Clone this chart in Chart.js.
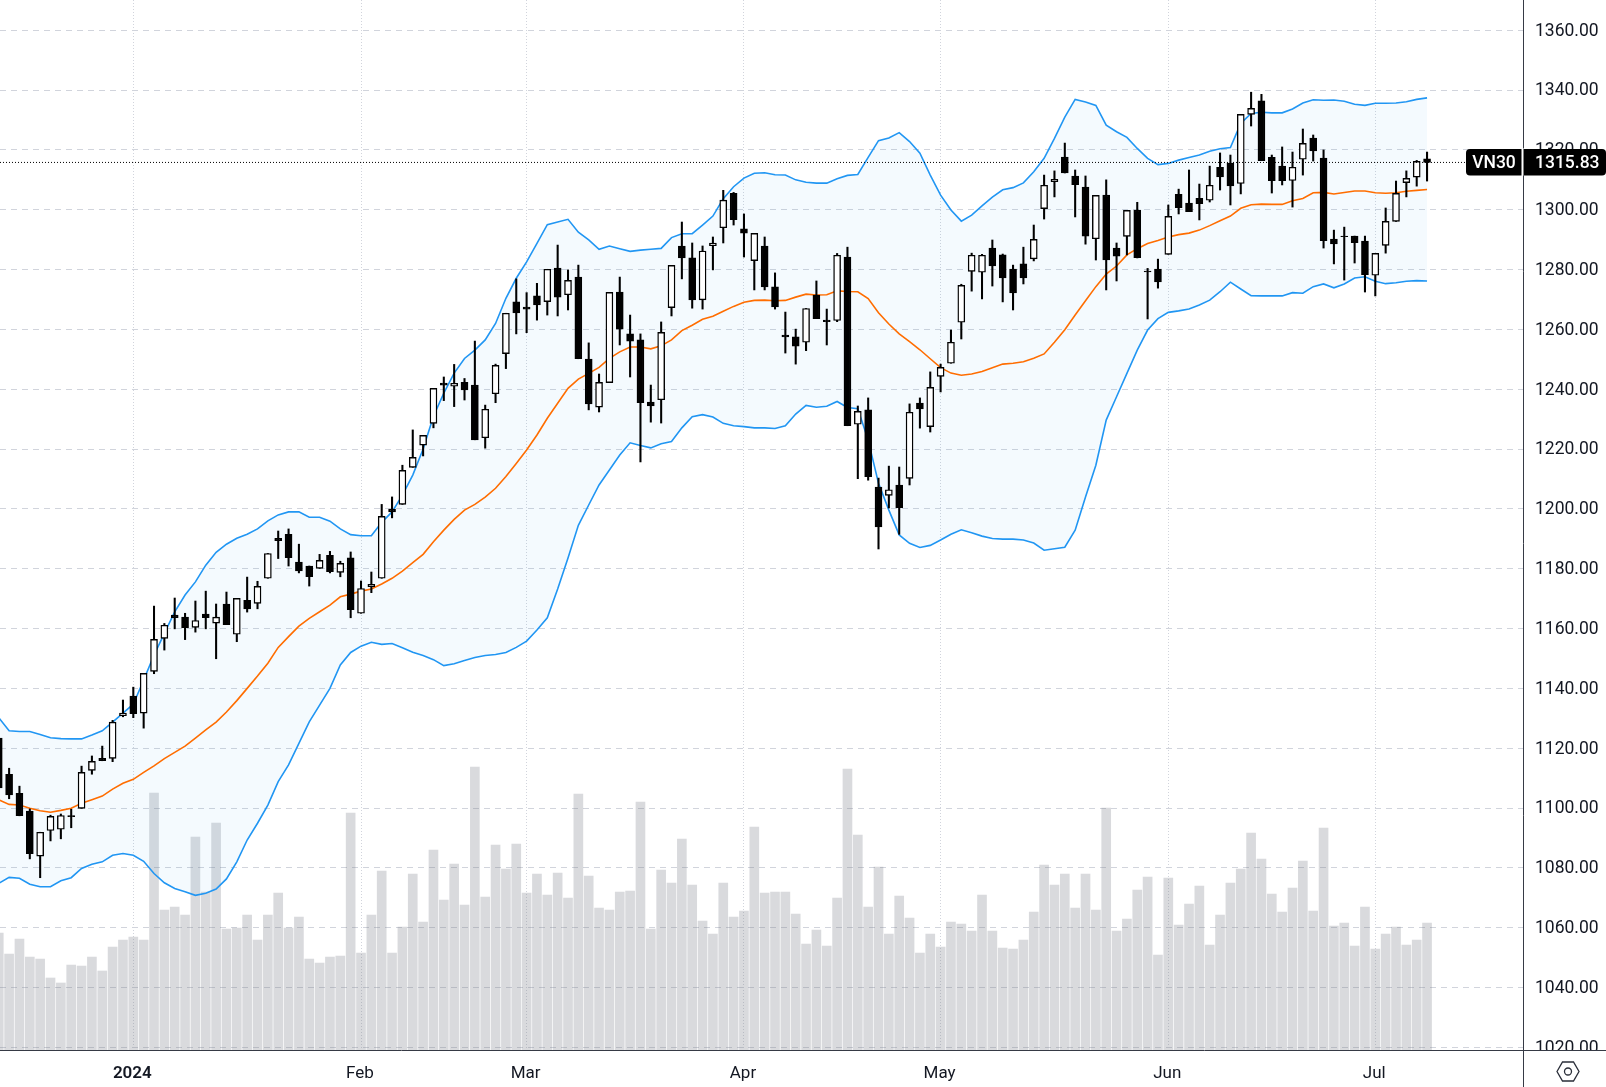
<!DOCTYPE html>
<html>
<head>
<meta charset="utf-8">
<title>VN30</title>
<script src="https://cdn.jsdelivr.net/npm/chart.js@4/dist/chart.umd.min.js"></script>
<style>
  html, body { margin: 0; padding: 0; background: #fff; }
  canvas { display: block; }
</style>
</head>
<body>
<canvas id="grafico" width="1606" height="1087"></canvas>
<script>
const opens = [
  1123.4,1111.3,1104.9,1099.0,1083.9,1092.5,1092.9,1097.5,1099.9,1112.6,
  1116.6,1116.6,1130.9,1137.4,1131.7,1145.7,1156.7,1164.5,1163.8,1160.4,
  1164.8,1161.8,1168.2,1158.1,1169.4,1168.4,1176.8,1190.2,1191.5,1182.2,
  1180.9,1180.1,1184.5,1178.8,1183.6,1165.1,1174.0,1176.8,1199.9,1201.5,
  1213.9,1221.3,1228.6,1242.1,1241.0,1242.3,1241.4,1223.8,1238.5,1251.9,
  1269.2,1267.5,1271.2,1269.3,1280.5,1271.6,1277.5,1250.1,1234.0,1242.2,
  1272.5,1258.5,1256.5,1235.7,1236.5,1267.3,1287.9,1283.9,1269.9,1288.0,
  1294.0,1305.5,1293.6,1283.0,1287.9,1274.2,1258.1,1257.5,1255.7,1271.5,
  1263.1,1263.0,1284.2,1228.3,1233.1,1207.3,1204.5,1208.0,1210.2,1235.4,
  1227.5,1244.3,1248.7,1262.4,1279.4,1279.1,1287.2,1284.9,1280.2,1281.9,
  1283.6,1300.4,1309.4,1317.6,1311.3,1307.6,1290.3,1304.9,1287.2,1291.1,
  1299.9,1279.5,1280.2,1285.1,1305.2,1302.2,1303.8,1303.2,1314.2,1315.6,
  1308.8,1331.9,1336.4,1317.5,1314.6,1309.8,1316.9,1324.0,1317.3,1290.2,
  1291.2,1291.2,1289.5,1278.1,1288.1,1296.1,1309.1,1310.9,1317.0
];
const highs = [
  1124.1,1113.3,1107.3,1099.7,1091.9,1097.6,1098.0,1099.6,1114.0,1117.4,
  1120.7,1129.3,1136.1,1140.4,1145.0,1167.5,1161.7,1170.2,1165.1,1169.2,
  1172.5,1168.2,1172.2,1170.1,1177.2,1175.8,1185.1,1192.6,1193.3,1188.2,
  1180.9,1184.8,1185.8,1182.5,1185.6,1175.9,1178.9,1201.5,1204.0,1214.6,
  1226.4,1224.6,1240.3,1244.1,1248.3,1243.6,1256.1,1234.7,1248.4,1265.4,
  1276.9,1272.3,1275.4,1280.1,1288.2,1279.9,1281.5,1255.5,1245.1,1272.4,
  1277.5,1264.8,1258.5,1241.4,1262.5,1281.4,1295.9,1288.9,1287.9,1290.9,
  1306.5,1305.8,1298.6,1292.1,1290.9,1278.9,1265.8,1260.1,1267.0,1276.2,
  1266.8,1285.4,1287.5,1234.4,1237.1,1210.3,1214.3,1214.0,1235.1,1237.1,
  1245.8,1248.4,1259.8,1275.1,1285.5,1285.1,1289.9,1285.2,1281.5,1287.5,
  1294.9,1311.6,1313.0,1322.3,1313.3,1311.3,1304.8,1310.0,1288.9,1299.8,
  1302.5,1280.4,1283.5,1301.6,1306.9,1313.3,1308.6,1314.6,1319.0,1318.3,
  1331.9,1339.3,1338.6,1318.3,1321.0,1319.3,1327.0,1325.0,1320.0,1293.2,
  1294.2,1291.2,1291.2,1285.4,1300.6,1309.6,1313.0,1316.5,1319.3
];
const lows = [
  1106.0,1103.1,1097.4,1083.0,1076.7,1089.0,1089.7,1093.4,1099.9,1111.3,
  1115.8,1115.5,1130.5,1130.2,1126.7,1144.9,1152.8,1159.9,1156.3,1158.8,
  1159.9,1149.9,1161.3,1155.6,1165.5,1166.6,1176.8,1183.4,1180.9,1178.6,
  1174.2,1180.1,1178.6,1177.3,1163.6,1165.1,1172.0,1176.8,1197.0,1201.5,
  1213.9,1217.7,1227.1,1236.2,1234.2,1236.4,1223.1,1220.3,1235.5,1246.9,
  1258.5,1258.9,1263.1,1264.8,1264.5,1266.5,1250.2,1233.1,1232.4,1242.2,
  1254.8,1244.1,1215.7,1229.0,1228.7,1264.5,1276.9,1267.1,1266.8,1279.9,
  1288.9,1294.9,1284.2,1273.2,1273.2,1266.8,1252.1,1248.4,1252.9,1263.6,
  1254.8,1262.6,1227.8,1210.1,1209.6,1186.6,1200.3,1191.5,1208.0,1227.0,
  1225.7,1239.1,1248.7,1256.8,1272.8,1270.2,1274.5,1269.2,1266.5,1275.2,
  1282.9,1296.9,1304.3,1312.3,1297.6,1288.5,1283.2,1273.2,1276.2,1284.9,
  1283.9,1263.5,1273.8,1285.1,1298.6,1299.4,1296.6,1302.6,1306.6,1301.6,
  1305.3,1328.0,1316.4,1305.6,1308.3,1300.9,1311.6,1316.3,1287.2,1281.9,
  1276.5,1282.2,1272.5,1271.2,1285.5,1296.1,1304.3,1307.9,1309.6
];
const closes = [
  1106.7,1104.4,1097.4,1084.7,1091.9,1097.2,1097.5,1097.1,1111.9,1115.6,
  1115.8,1128.7,1131.7,1131.5,1145.0,1156.4,1161.1,1163.6,1160.3,1162.7,
  1163.6,1163.8,1161.3,1170.1,1166.6,1174.1,1185.1,1189.4,1183.7,1179.3,
  1177.3,1182.8,1179.0,1181.8,1166.3,1173.4,1174.8,1197.5,1199.0,1212.9,
  1217.2,1224.6,1240.3,1241.4,1242.0,1239.8,1223.1,1233.3,1248.0,1265.4,
  1265.5,1266.8,1268.2,1280.1,1270.8,1276.4,1250.2,1235.1,1242.3,1272.4,
  1260.1,1256.1,1235.5,1234.4,1259.0,1281.4,1283.9,1269.9,1286.2,1288.9,
  1303.2,1296.7,1292.2,1292.1,1274.2,1267.5,1257.5,1254.4,1267.0,1263.6,
  1262.6,1284.8,1227.8,1232.6,1210.8,1194.0,1206.4,1200.4,1232.3,1233.4,
  1240.6,1247.3,1255.7,1274.7,1284.8,1284.8,1281.2,1277.2,1272.2,1277.2,
  1290.1,1308.2,1310.2,1312.3,1308.4,1291.2,1304.8,1283.2,1284.5,1299.8,
  1284.0,1279.2,1275.9,1297.8,1300.7,1299.4,1302.0,1308.2,1311.0,1308.0,
  1331.9,1333.9,1316.4,1309.7,1309.7,1314.2,1322.2,1319.7,1289.7,1288.6,
  1291.0,1289.0,1278.3,1285.4,1296.1,1305.5,1310.5,1316.2,1315.83
];
const volumes = [
  117,96,111,93,91,72,67,85,84,93,
  79,103,110,113,110,257,140,143,135,213,
  158,227,121,122,135,110,135,157,122,133,
  91,87,93,94,237,97,135,179,97,123,
  176,128,200,150,186,145,283,153,205,181,
  206,157,176,155,177,152,256,174,142,140,
  158,159,248,121,180,167,211,165,129,116,
  167,133,139,223,157,158,158,136,106,120,
  104,152,281,215,143,183,116,154,132,97,
  116,103,128,126,119,155,119,102,101,110,
  138,185,165,176,142,176,140,242,119,131,
  160,173,95,172,125,146,164,105,135,167,
  181,217,191,156,138,162,189,139,222,124,
  127,104,143,101,116,123,105,110,127
];
const bbUpper = [
  1130.2,1125.8,1125.6,1125.6,1124.6,1123.5,1123.2,1123.1,1123.1,1124.4,
  1125.8,1128.7,1131.7,1134.7,1142.8,1151.1,1158.4,1165.6,1171.2,1175.6,
  1181.2,1185.5,1188.2,1190.2,1191.5,1193.3,1196.0,1198.0,1199.0,1199.0,
  1197.2,1197.2,1195.9,1193.3,1191.4,1191.0,1191.0,1195.5,1199.0,1204.6,
  1211.3,1220.0,1231.0,1238.7,1245.4,1250.3,1253.1,1256.5,1262.0,1270.4,
  1277.1,1282.6,1288.8,1295.0,1295.9,1296.8,1292.5,1289.9,1286.8,1287.9,
  1287.0,1286.1,1286.5,1286.8,1287.1,1290.7,1292.0,1292.0,1294.9,1297.9,
  1303.7,1307.7,1310.6,1312.2,1312.4,1311.7,1311.6,1310.0,1309.2,1308.9,
  1308.9,1310.4,1311.5,1311.8,1317.5,1323.1,1324.0,1325.8,1322.8,1318.9,
  1311.6,1304.9,1299.9,1296.2,1298.2,1301.3,1304.2,1306.7,1307.4,1309.0,
  1312.7,1317.2,1323.9,1331.0,1336.9,1336.0,1334.9,1328.3,1326.1,1324.2,
  1320.5,1317.2,1315.1,1315.5,1316.6,1317.5,1318.3,1319.6,1320.4,1320.8,
  1328.9,1332.2,1332.6,1332.4,1332.4,1333.7,1335.7,1336.8,1336.6,1336.7,
  1336.3,1335.3,1334.9,1335.6,1335.6,1335.7,1336.1,1336.9,1337.4
];
const bbMiddle = [
  1102.7,1101.2,1101.0,1099.9,1099.1,1098.6,1099.2,1099.9,1101.6,1102.8,
  1104.0,1106.3,1108.3,1109.6,1111.9,1114.1,1116.5,1118.6,1120.7,1123.4,
  1126.1,1128.7,1132.1,1135.9,1140.0,1144.1,1148.4,1153.7,1157.3,1160.8,
  1163.4,1165.6,1167.8,1170.6,1171.5,1172.5,1173.2,1174.9,1176.8,1179.2,
  1182.0,1184.8,1189.0,1192.9,1196.5,1199.6,1201.5,1203.9,1206.9,1210.8,
  1215.2,1219.7,1224.7,1230.3,1235.3,1240.3,1243.4,1245.3,1247.3,1250.3,
  1252.5,1254.1,1254.1,1253.5,1254.5,1256.5,1259.6,1261.4,1263.4,1264.4,
  1266.1,1267.7,1269.1,1269.7,1269.8,1269.6,1269.7,1270.8,1271.8,1271.5,
  1271.6,1272.9,1272.7,1272.6,1270.3,1265.6,1261.8,1258.5,1255.9,1253.2,
  1250.2,1247.2,1245.4,1244.7,1245.1,1245.9,1247.2,1248.4,1248.7,1249.2,
  1250.4,1251.8,1255.7,1259.9,1264.8,1269.6,1274.3,1278.5,1281.2,1284.9,
  1287.0,1288.7,1289.7,1290.9,1291.7,1292.2,1293.2,1294.7,1296.3,1297.9,
  1300.5,1301.7,1301.9,1301.8,1301.8,1303.0,1303.8,1305.7,1305.8,1305.3,
  1305.8,1306.3,1306.3,1305.7,1305.5,1305.7,1306.2,1306.5,1306.8
];
const bbLower = [
  1074.8,1076.8,1076.5,1074.5,1073.7,1073.7,1075.7,1076.7,1079.8,1081.2,
  1082.0,1084.2,1084.8,1084.2,1082.2,1078.1,1075.0,1073.1,1072.0,1070.8,
  1071.5,1072.9,1076.3,1082.0,1089.3,1094.9,1101.0,1108.8,1114.4,1121.6,
  1128.8,1134.4,1140.0,1147.8,1152.0,1154.1,1155.4,1154.7,1155.0,1153.6,
  1152.1,1151.0,1149.6,1147.6,1148.2,1149.3,1150.3,1151.0,1151.3,1152.0,
  1153.7,1155.8,1159.5,1163.6,1173.2,1183.6,1194.5,1201.3,1208.0,1213.0,
  1218.0,1222.1,1221.2,1220.4,1221.8,1222.5,1227.1,1230.8,1231.5,1230.7,
  1228.6,1227.8,1227.5,1227.1,1227.1,1226.9,1227.8,1231.7,1234.6,1234.0,
  1234.3,1235.9,1233.9,1233.5,1223.0,1208.6,1199.6,1191.3,1188.5,1187.1,
  1187.8,1189.6,1191.5,1193.0,1192.0,1190.9,1190.1,1189.9,1189.9,1189.6,
  1188.6,1186.2,1186.7,1187.2,1192.9,1204.0,1214.6,1229.7,1237.5,1245.3,
  1253.1,1259.8,1263.6,1265.7,1266.2,1266.8,1268.2,1269.8,1272.6,1275.8,
  1273.5,1271.3,1271.2,1271.2,1271.2,1272.3,1272.1,1274.3,1275.2,1273.9,
  1275.2,1277.2,1277.6,1276.1,1275.3,1275.6,1276.1,1276.3,1276.2
];

// Etiquetas de los ejes
const priceTicks = [1020,1040,1060,1080,1100,1120,1140,1160,1180,1200,1220,1240,1260,1280,1300,1320,1340,1360];
const monthIndexes = [13,35,51,72,91,113,133];
const monthLabels = ['2024','Feb','Mar','Apr','May','Jun','Jul'];
const symbolName = 'VN30';
const lastPrice = 1315.83;

const FONT = 'Roboto, sans-serif';
const xMin = 0.12, xMax = 147.27;

const indices = opens.map((_, i) => i);
const toPoints = serie => serie.map((y, i) => ({ x: i, y }));
const colorVela = i => closes[i] < opens[i] ? '#000000' : '#ffffff';

// Dibuja el eje, la etiqueta del precio y el icono por encima del gráfico
const overlay = {
  id: 'overlay',
  afterDraw(chart) {
    const { ctx, chartArea, width, height } = chart;
    const y = chart.scales.y.getPixelForValue(lastPrice);

    ctx.save();
    // Recortar las etiquetas que caen debajo del eje
    ctx.fillStyle = '#ffffff';
    ctx.fillRect(chartArea.right, chartArea.bottom, width - chartArea.right, height - chartArea.bottom);

    ctx.strokeStyle = '#363a45';
    ctx.lineWidth = 1;
    ctx.beginPath();
    ctx.moveTo(chartArea.right + 0.5, 0);
    ctx.lineTo(chartArea.right + 0.5, height);
    ctx.moveTo(0, chartArea.bottom + 0.5);
    ctx.lineTo(width, chartArea.bottom + 0.5);
    ctx.stroke();

    // Etiquetas del último precio
    ctx.fillStyle = '#ffffff';
    ctx.fillRect(chartArea.right - 2, y - 14, 3, 27);
    ctx.fillStyle = '#000000';
    ctx.beginPath();
    ctx.roundRect(chartArea.right - 57, y - 13.5, 55.5, 26.5, [4, 0, 0, 4]);
    ctx.fill();
    ctx.beginPath();
    ctx.roundRect(chartArea.right + 0.5, y - 13.5, width - chartArea.right - 0.5, 26.5, [0, 4, 4, 0]);
    ctx.fill();
    ctx.fillStyle = '#ffffff';
    ctx.font = '500 17.5px ' + FONT;
    ctx.textBaseline = 'middle';
    ctx.textAlign = 'center';
    ctx.fillText(symbolName, chartArea.right - 29, y + 1.5);
    ctx.textAlign = 'left';
    ctx.fillText(lastPrice.toFixed(2), chartArea.right + 12, y + 1.5);

    // Icono de ajustes
    const cx = chartArea.right + 45, cy = chartArea.bottom + 21.5;
    ctx.strokeStyle = '#2a2e39';
    ctx.lineWidth = 1.3;
    ctx.beginPath();
    ctx.moveTo(cx - 11, cy);
    ctx.lineTo(cx - 5.5, cy - 9.5);
    ctx.lineTo(cx + 5.5, cy - 9.5);
    ctx.lineTo(cx + 11, cy);
    ctx.lineTo(cx + 5.5, cy + 9.5);
    ctx.lineTo(cx - 5.5, cy + 9.5);
    ctx.closePath();
    ctx.stroke();
    ctx.beginPath();
    ctx.arc(cx, cy, 3.5, 0, Math.PI * 2);
    ctx.stroke();
    ctx.restore();
  }
};

const datasets = [
  {
    type: 'bar', label: 'Volume', yAxisID: 'yVol', order: 6, grouped: false,
    data: toPoints(volumes), barThickness: 9, backgroundColor: 'rgba(120,123,134,0.28)'
  },
  {
    type: 'line', label: 'Upper', order: 5, data: toPoints(bbUpper),
    borderColor: '#2196f3', borderWidth: 1.6, pointRadius: 0, tension: 0,
    fill: { target: 2 }, backgroundColor: 'rgba(33,150,243,0.05)'
  },
  {
    type: 'line', label: 'Lower', order: 5, data: toPoints(bbLower),
    borderColor: '#2196f3', borderWidth: 1.6, pointRadius: 0, tension: 0, fill: false
  },
  {
    type: 'line', label: 'Basis', order: 4, data: toPoints(bbMiddle),
    borderColor: '#ff6d00', borderWidth: 1.6, pointRadius: 0, tension: 0, fill: false
  },
  {
    type: 'bar', label: 'Wick', order: 2, grouped: false,
    data: indices.map(i => ({ x: i, y: [lows[i], highs[i]] })),
    barThickness: 1.4, backgroundColor: '#000000'
  },
  {
    type: 'bar', label: 'Body', order: 1, grouped: false,
    data: indices.map(i => ({ x: i, y: [opens[i], closes[i]] })),
    barThickness: 7, backgroundColor: indices.map(colorVela),
    borderColor: '#000000', borderWidth: 1.4, borderSkipped: false
  },
  {
    type: 'line', label: 'Last', order: 0,
    data: [{ x: xMin, y: lastPrice }, { x: xMax, y: lastPrice }],
    borderColor: '#000000', borderWidth: 1, borderDash: [1, 2], pointRadius: 0, fill: false
  }
];

new Chart(document.getElementById('grafico'), {
  type: 'bar',
  data: { datasets },
  plugins: [overlay],
  options: {
    responsive: false,
    animation: false,
    layout: { padding: 0 },
    plugins: { legend: { display: false }, tooltip: { enabled: false }, title: { display: false } },
    scales: {
      x: {
        type: 'linear',
        min: xMin,
        max: xMax,
        offset: false,
        afterBuildTicks: axis => { axis.ticks = monthIndexes.map(value => ({ value })); },
        afterFit: axis => { axis.height = 37; axis.paddingLeft = 0; axis.paddingRight = 0; },
        grid: { offset: false, color: '#d1d4dc', drawTicks: false, lineWidth: 1 },
        border: { display: false, dash: [1, 2] },
        ticks: {
          autoSkip: false,
          maxRotation: 0,
          padding: 14,
          labelOffset: -1,
          color: '#131722',
          font: ctx => ({ family: FONT, size: 17, weight: ctx.index === 0 ? '600' : '400' }),
          callback: value => monthLabels[monthIndexes.indexOf(value)]
        }
      },
      y: {
        position: 'right',
        min: 1019.1,
        max: 1370.13,
        afterBuildTicks: axis => { axis.ticks = priceTicks.map(value => ({ value })); },
        afterFit: axis => { axis.width = 83; axis.paddingTop = 0; axis.paddingBottom = 0; },
        grid: { color: '#d1d4dc', drawTicks: false, lineWidth: 1 },
        border: { display: false, dash: [6, 5] },
        ticks: {
          autoSkip: false,
          padding: 12,
          labelOffset: 1,
          color: '#131722',
          font: { family: FONT, size: 17.5 },
          callback: value => value.toFixed(2)
        }
      },
      yVol: { display: false, min: 0, max: 1050 }
    }
  }
});
</script>
</body>
</html>
